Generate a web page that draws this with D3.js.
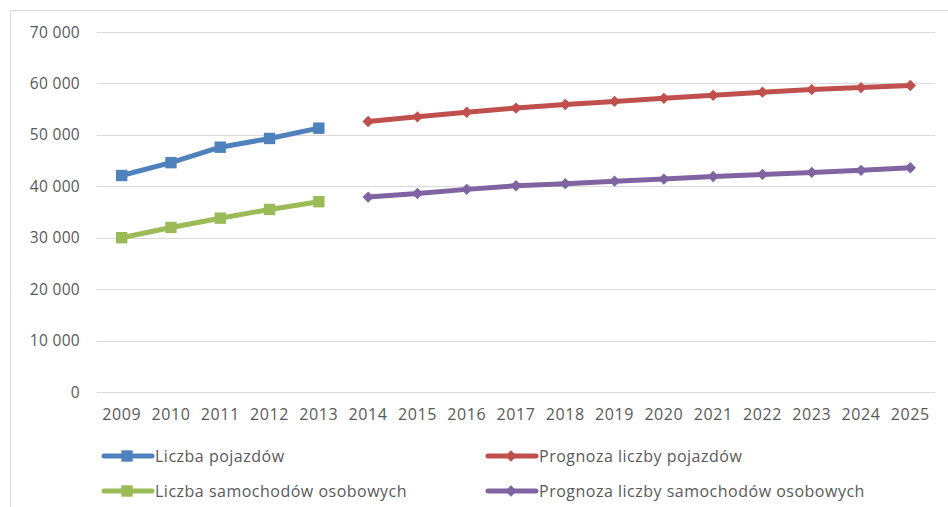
<!DOCTYPE html>
<html><head><meta charset="utf-8">
<script src="https://cdn.jsdelivr.net/npm/d3@7"></script>
<style>body{margin:0;background:#fff;} text{font-family:"Open Sans",sans-serif;fill:#595959;}</style>
</head><body><svg id="c" width="948" height="507"></svg>
<script>
const years = [2009,2010,2011,2012,2013,2014,2015,2016,2017,2018,2019,2020,2021,2022,2023,2024,2025];
const yTicks = [0,10000,20000,30000,40000,50000,60000,70000];
const liczbaPojazdow = [42100,44600,47600,49300,51300,null,null,null,null,null,null,null,null,null,null,null,null];
const liczbaSamochodow = [30000,32000,33800,35500,37000,null,null,null,null,null,null,null,null,null,null,null,null];
const prognozaPojazdow = [null,null,null,null,null,52600,53500,54400,55200,55900,56500,57100,57700,58300,58800,59200,59600];
const prognozaSamochodow = [null,null,null,null,null,37900,38600,39400,40100,40500,41000,41400,41900,42300,42700,43100,43600];
const seriesNames = ["Liczba pojazdów","Prognoza liczby pojazdów","Liczba samochodów osobowych","Prognoza liczby samochodów osobowych"];

const series = [
  {name:seriesNames[0], values:liczbaPojazdow, color:"#4f81bd", marker:"square"},
  {name:seriesNames[1], values:prognozaPojazdow, color:"#c0504d", marker:"diamond"},
  {name:seriesNames[2], values:liczbaSamochodow, color:"#9bbb59", marker:"square"},
  {name:seriesNames[3], values:prognozaSamochodow, color:"#8064a2", marker:"diamond"}
];

const svg = d3.select("#c");
svg.append("path").attr("d","M10.5,507 L10.5,10.5 L948,10.5").attr("fill","none").attr("stroke","#d9d9d9").attr("stroke-width",1);

const x = d3.scaleBand().domain(years).range([97,935]);
const y = d3.scaleLinear().domain([0,70000]).range([392,32]);
const fmt = v => d3.format(",")(v).replace(/,/g," ");

svg.append("g").selectAll("line").data(yTicks).join("line")
  .attr("x1",97).attr("x2",935).attr("y1",d=>Math.round(y(d))+0.5).attr("y2",d=>Math.round(y(d))+0.5)
  .attr("stroke","#d9d9d9").attr("stroke-width",1);

svg.append("g").selectAll("text").data(yTicks).join("text")
  .attr("x",80).attr("y",d=>y(d)).attr("dy","0.36em").attr("text-anchor","end")
  .attr("font-size",15.5).attr("letter-spacing",0.3).text(fmt);

svg.append("g").selectAll("text").data(years).join("text")
  .attr("x",d=>x(d)+x.bandwidth()/2).attr("y",414).attr("dy","0.36em").attr("text-anchor","middle")
  .attr("font-size",16).attr("letter-spacing",0.6).text(d=>d);

const line = d3.line().defined(d=>d.v!=null).x(d=>x(d.yr)+x.bandwidth()/2).y(d=>y(d.v));
const sq = d3.symbol().type(d3.symbolSquare).size(130);
const dm = d3.symbol().type(d3.symbolSquare).size(64);
const mark = (sel, s) => sel.attr("d", s.marker==="square"?sq():dm())
  .attr("transform", function(){ return (this.getAttribute("data-t")||"") + (s.marker==="diamond"?" rotate(45)":""); });

series.forEach(s=>{
  const pts = years.map((yr,i)=>({yr, v:s.values[i]}));
  svg.append("path").datum(pts).attr("d",line).attr("fill","none").attr("stroke",s.color).attr("stroke-width",5).attr("stroke-linejoin","round");
  svg.append("g").selectAll("path").data(pts.filter(d=>d.v!=null)).join("path")
    .attr("transform",d=>`translate(${x(d.yr)+x.bandwidth()/2},${y(d.v)})` + (s.marker==="diamond"?" rotate(45)":""))
    .attr("d",s.marker==="square"?sq():dm()).attr("fill",s.color);
});

const legPos = [[104,456],[488,456],[104,491],[488,491]];
series.forEach((s,i)=>{
  const [lx,ly] = legPos[i];
  const g = svg.append("g").attr("transform",`translate(${lx},${ly})`);
  g.append("line").attr("x1",0).attr("x2",48).attr("y1",0).attr("y2",0).attr("stroke",s.color).attr("stroke-width",5).attr("stroke-linecap","round");
  g.append("path").attr("transform","translate(23,0)" + (s.marker==="diamond"?" rotate(45)":"")).attr("d",s.marker==="square"?sq():dm()).attr("fill",s.color);
  g.append("text").attr("x",51).attr("y",0).attr("dy","0.36em").attr("font-size",16).attr("letter-spacing",0.5).text(s.name);
});
</script></body></html>
